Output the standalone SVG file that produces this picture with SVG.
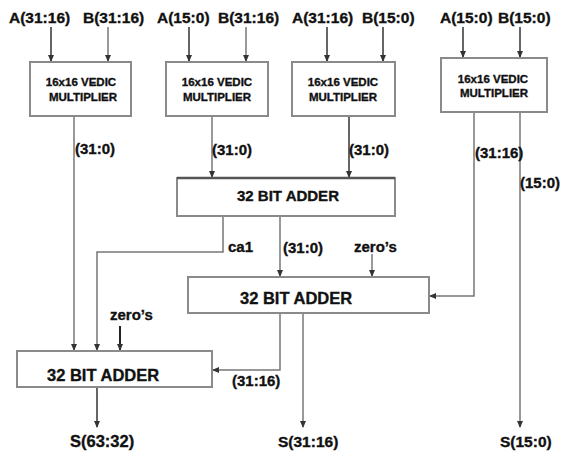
<svg xmlns="http://www.w3.org/2000/svg" width="561" height="451" viewBox="0 0 561 451">
<defs>
<marker id="ah" markerWidth="7" markerHeight="6" refX="6" refY="3" orient="auto" markerUnits="userSpaceOnUse">
<path d="M0,0 L7,3 L0,6 Z" fill="#333"/>
</marker>
</defs>
<style>
.box{fill:#fff;stroke:#8a8a8a;stroke-width:2}
.lbl{font-family:"Liberation Sans",Arial,sans-serif;font-weight:bold;fill:#111;stroke:#111;stroke-width:0.35}
.io{font-size:15.5px}
.mt{font-size:11.5px;text-anchor:middle}
.sm{font-size:15px}
.ln{fill:none;stroke:#777;stroke-width:1.5}
.dk{fill:none;stroke:#333;stroke-width:1.5}
.bk{fill:none;stroke:#222;stroke-width:2}
</style>
<rect width="561" height="451" fill="#fff"/>
<g id="labels-in">
<text class="lbl io" x="9" y="23">A(31:16)</text>
<text class="lbl io" x="83" y="23">B(31:16)</text>
<text class="lbl io" x="157" y="23">A(15:0)</text>
<text class="lbl io" x="218" y="23">B(31:16)</text>
<text class="lbl io" x="292" y="23">A(31:16)</text>
<text class="lbl io" x="362" y="23">B(15:0)</text>
<text class="lbl io" x="440" y="23">A(15:0)</text>
<text class="lbl io" x="498" y="23">B(15:0)</text>
</g>
<g id="connectors">
<line class="dk" x1="51" y1="27" x2="51" y2="61" marker-end="url(#ah)"/>
<line class="ln" x1="108" y1="27" x2="108" y2="61" marker-end="url(#ah)"/>
<line class="dk" x1="189" y1="27" x2="189" y2="61" marker-end="url(#ah)"/>
<line class="ln" x1="246" y1="27" x2="246" y2="61" marker-end="url(#ah)"/>
<line class="dk" x1="327" y1="27" x2="327" y2="61" marker-end="url(#ah)"/>
<line class="dk" x1="383" y1="27" x2="383" y2="61" marker-end="url(#ah)"/>
<line class="dk" x1="463" y1="27" x2="463" y2="57" marker-end="url(#ah)"/>
<line class="dk" x1="520" y1="27" x2="520" y2="57" marker-end="url(#ah)"/>
<line class="ln" x1="74" y1="117" x2="74" y2="350" marker-end="url(#ah)"/>
<line class="ln" x1="212" y1="117" x2="212" y2="177" marker-end="url(#ah)"/>
<line class="dk" x1="349" y1="117" x2="349" y2="177" marker-end="url(#ah)"/>
<polyline class="ln" points="474,113 474,296 430,296" marker-end="url(#ah)"/>
<line class="ln" x1="520" y1="113" x2="520" y2="427" marker-end="url(#ah)"/>
<polyline class="ln" points="223,217 223,252 97,252 97,350" marker-end="url(#ah)"/>
<line class="ln" x1="280" y1="217" x2="280" y2="276" marker-end="url(#ah)"/>
<line class="ln" x1="372" y1="254" x2="372" y2="276" marker-end="url(#ah)"/>
<polyline class="ln" points="280,314 280,370 213,370" marker-end="url(#ah)"/>
<line class="ln" x1="303" y1="314" x2="303" y2="427" marker-end="url(#ah)"/>
<line class="bk" x1="120" y1="326" x2="120" y2="350" marker-end="url(#ah)"/>
<line class="dk" x1="97" y1="388" x2="97" y2="427" marker-end="url(#ah)"/>
</g>
<g id="mult1">
<rect class="box" x="30" y="62" width="101" height="54"/>
<text class="lbl mt" x="81" y="86">16x16 VEDIC</text>
<text class="lbl mt" x="83" y="101">MULTIPLIER</text>
</g>
<g id="mult2">
<rect class="box" x="166" y="62" width="102" height="54"/>
<text class="lbl mt" x="217" y="86">16x16 VEDIC</text>
<text class="lbl mt" x="217" y="101">MULTIPLIER</text>
</g>
<g id="mult3">
<rect class="box" x="292" y="62" width="103" height="54"/>
<text class="lbl mt" x="343" y="86">16x16 VEDIC</text>
<text class="lbl mt" x="343" y="101">MULTIPLIER</text>
</g>
<g id="mult4">
<rect class="box" x="441" y="58" width="106" height="54"/>
<text class="lbl mt" x="493" y="83">16x16 VEDIC</text>
<text class="lbl mt" x="494" y="97">MULTIPLIER</text>
</g>
<g id="adder1">
<rect class="box" x="177" y="178" width="218" height="38"/>
<line x1="177" y1="178" x2="395" y2="178" stroke="#555" stroke-width="2.5"/>
<text class="lbl" font-size="15" x="237" y="201">32 BIT ADDER</text>
</g>
<g id="adder2">
<rect class="box" x="188" y="277" width="241" height="36"/>
<text class="lbl" font-size="16.5" x="240" y="304">32 BIT ADDER</text>
</g>
<g id="adder3">
<rect class="box" x="17" y="351" width="195" height="36"/>
<text class="lbl" font-size="16.5" x="47" y="381">32 BIT ADDER</text>
</g>
<g id="labels">
<text class="lbl sm" x="75" y="154">(31:0)</text>
<text class="lbl sm" x="212" y="155">(31:0)</text>
<text class="lbl sm" x="349" y="155">(31:0)</text>
<text class="lbl sm" x="475" y="158">(31:16)</text>
<text class="lbl sm" x="520" y="188">(15:0)</text>
<text class="lbl sm" x="228" y="252">ca1</text>
<text class="lbl sm" x="283" y="253">(31:0)</text>
<text class="lbl sm" x="354" y="252">zero’s</text>
<text class="lbl sm" x="110" y="320">zero’s</text>
<text class="lbl sm" x="232" y="386">(31:16)</text>
<text class="lbl" font-size="16.5" x="70" y="447">S(63:32)</text>
<text class="lbl io" x="278" y="447">S(31:16)</text>
<text class="lbl io" x="500" y="447">S(15:0)</text>
</g>
</svg>
